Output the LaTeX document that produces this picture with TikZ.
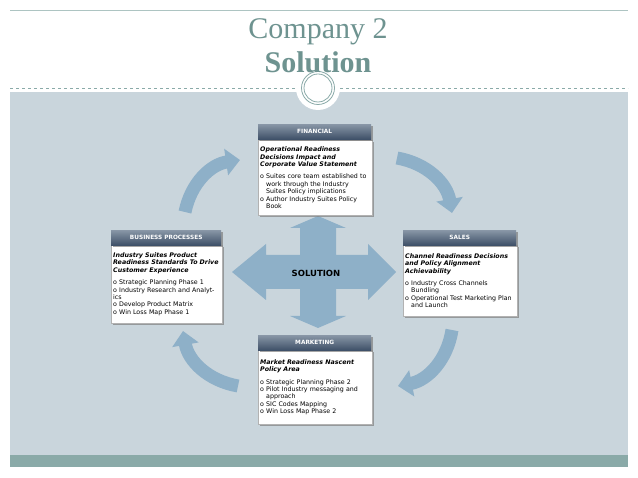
\documentclass[tikz,border=0pt]{standalone}
\usepackage{fontspec}
\setmainfont{DejaVu Sans}
\newfontfamily\titlefont{Liberation Serif}
\usetikzlibrary{arrows.meta,shadows}
\definecolor{panel}{HTML}{C9D5DC}
\definecolor{teal}{HTML}{8AAAA8}
\definecolor{titlec}{HTML}{6E9390}
\definecolor{arrowc}{HTML}{8EB0C8}
\definecolor{headtop}{HTML}{8896A6}
\definecolor{headbot}{HTML}{3E5068}
\tikzset{
  body/.style={draw=gray!60, fill=white, minimum width=113pt, text width=110pt, inner sep=2pt, anchor=north west, align=left, font=\fontsize{6.3}{7.4}\selectfont, drop shadow={shadow xshift=2pt, shadow yshift=-2pt, opacity=0.7}},
  head/.style={top color=headtop, bottom color=headbot, minimum width=113pt, minimum height=15pt, anchor=north west, text=white, font=\bfseries\fontsize{5.8}{6}\selectfont, inner sep=0pt, drop shadow={shadow xshift=2pt, shadow yshift=-2pt, opacity=0.7}},
  curv/.style={arrowc, line width=13pt, -{Triangle[width=26pt,length=14pt]}},
}
\newcommand{\ttl}[1]{\textbf{\textit{#1}}}
\begin{document}
\begin{tikzpicture}[x=1pt,y=-1pt]
\useasboundingbox (0,0) rectangle (638,478);
\fill[white] (0,0) rectangle (638,478);
\fill[panel] (10,92) rectangle (628,455);
\fill[teal] (10,455) rectangle (628,467);
\draw[teal!70, line width=0.6pt] (10,10) -- (628,10);
\draw[teal, dashed, line width=0.5pt] (10,88) -- (628,88);
\fill[white] (318,88) circle (22);
\draw[teal, line width=0.8pt] (318,88) circle (16.5);
\draw[teal, line width=0.8pt] (318,88) circle (14);
\node[text=titlec, font=\titlefont\fontsize{30}{31}\selectfont] (t1) at (318,32) {Company 2};
\node[text=titlec, font=\titlefont\bfseries\fontsize{30}{31}\selectfont] (t2) at (318,62) {Solution};
% cross
\fill[arrowc] (300,228) -- (290,228) -- (318,216) -- (346,228) -- (336,228) -- (336,255) -- (368,255) -- (368,244) -- (396,272) -- (368,300) -- (368,289) -- (336,289) -- (336,316) -- (346,316) -- (318,328) -- (290,316) -- (300,316) -- (300,289) -- (266,289) -- (266,300) -- (232,272) -- (266,244) -- (266,255) -- (300,255) -- cycle;
\node[font=\bfseries\fontsize{8.5}{9}\selectfont] (sol) at (316,273) {SOLUTION};
% curved arrows
\draw[curv] (185,212) to[bend left=35] (240,160);
\draw[curv] (397,158) to[bend left=35] (452,213);
\draw[curv] (452,330) to[bend left=35] (398,386);
\draw[curv] (238,386) to[bend left=35] (183,331);
% Financial
\node[body, minimum height=75pt] (fb) at (258,140) {\ttl{Operational Readiness\\Decisions Impact and\\Corporate Value Statement}\\[5pt]
o Suites core team established to\\ \hspace*{6pt}work through the Industry\\ \hspace*{6pt}Suites Policy implications\\ o Author Industry Suites Policy\\ \hspace*{6pt}Book};
\node[head] (fh) at (258,124) {FINANCIAL};
% Business
\node[body, minimum height=78pt, minimum width=110pt, text width=107pt] (bb) at (111,245) {\ttl{Industry Suites Product\\Readiness Standards To Drive\\Customer Experience}\\[5pt]
o Strategic Planning Phase 1\\ o Industry Research and Analytics\\ o Develop Product Matrix\\ o Win Loss Map Phase 1};
\node[head, minimum width=110pt] (bh) at (111,230) {BUSINESS PROCESSES};
% Sales
\node[body, minimum height=71pt] (sb) at (403,245) {\ttl{Channel Readiness Decisions\\and Policy Alignment\\Achievability}\\[5pt]
o Industry Cross Channels\\ \hspace*{6pt}Bundling\\ o Operational Test Marketing Plan\\ \hspace*{6pt}and Launch};
\node[head] (sh) at (403,230) {SALES};
% Marketing
\node[body, minimum height=74pt] (mb) at (258,350) {\ttl{Market Readiness Nascent\\Policy Area}\\[5pt]
o Strategic Planning Phase 2\\ o Pilot Industry messaging and\\ \hspace*{6pt}approach\\ o SIC Codes Mapping\\ o Win Loss Map Phase 2};
\node[head] (mh) at (258,335) {MARKETING};
\end{tikzpicture}
\end{document}
